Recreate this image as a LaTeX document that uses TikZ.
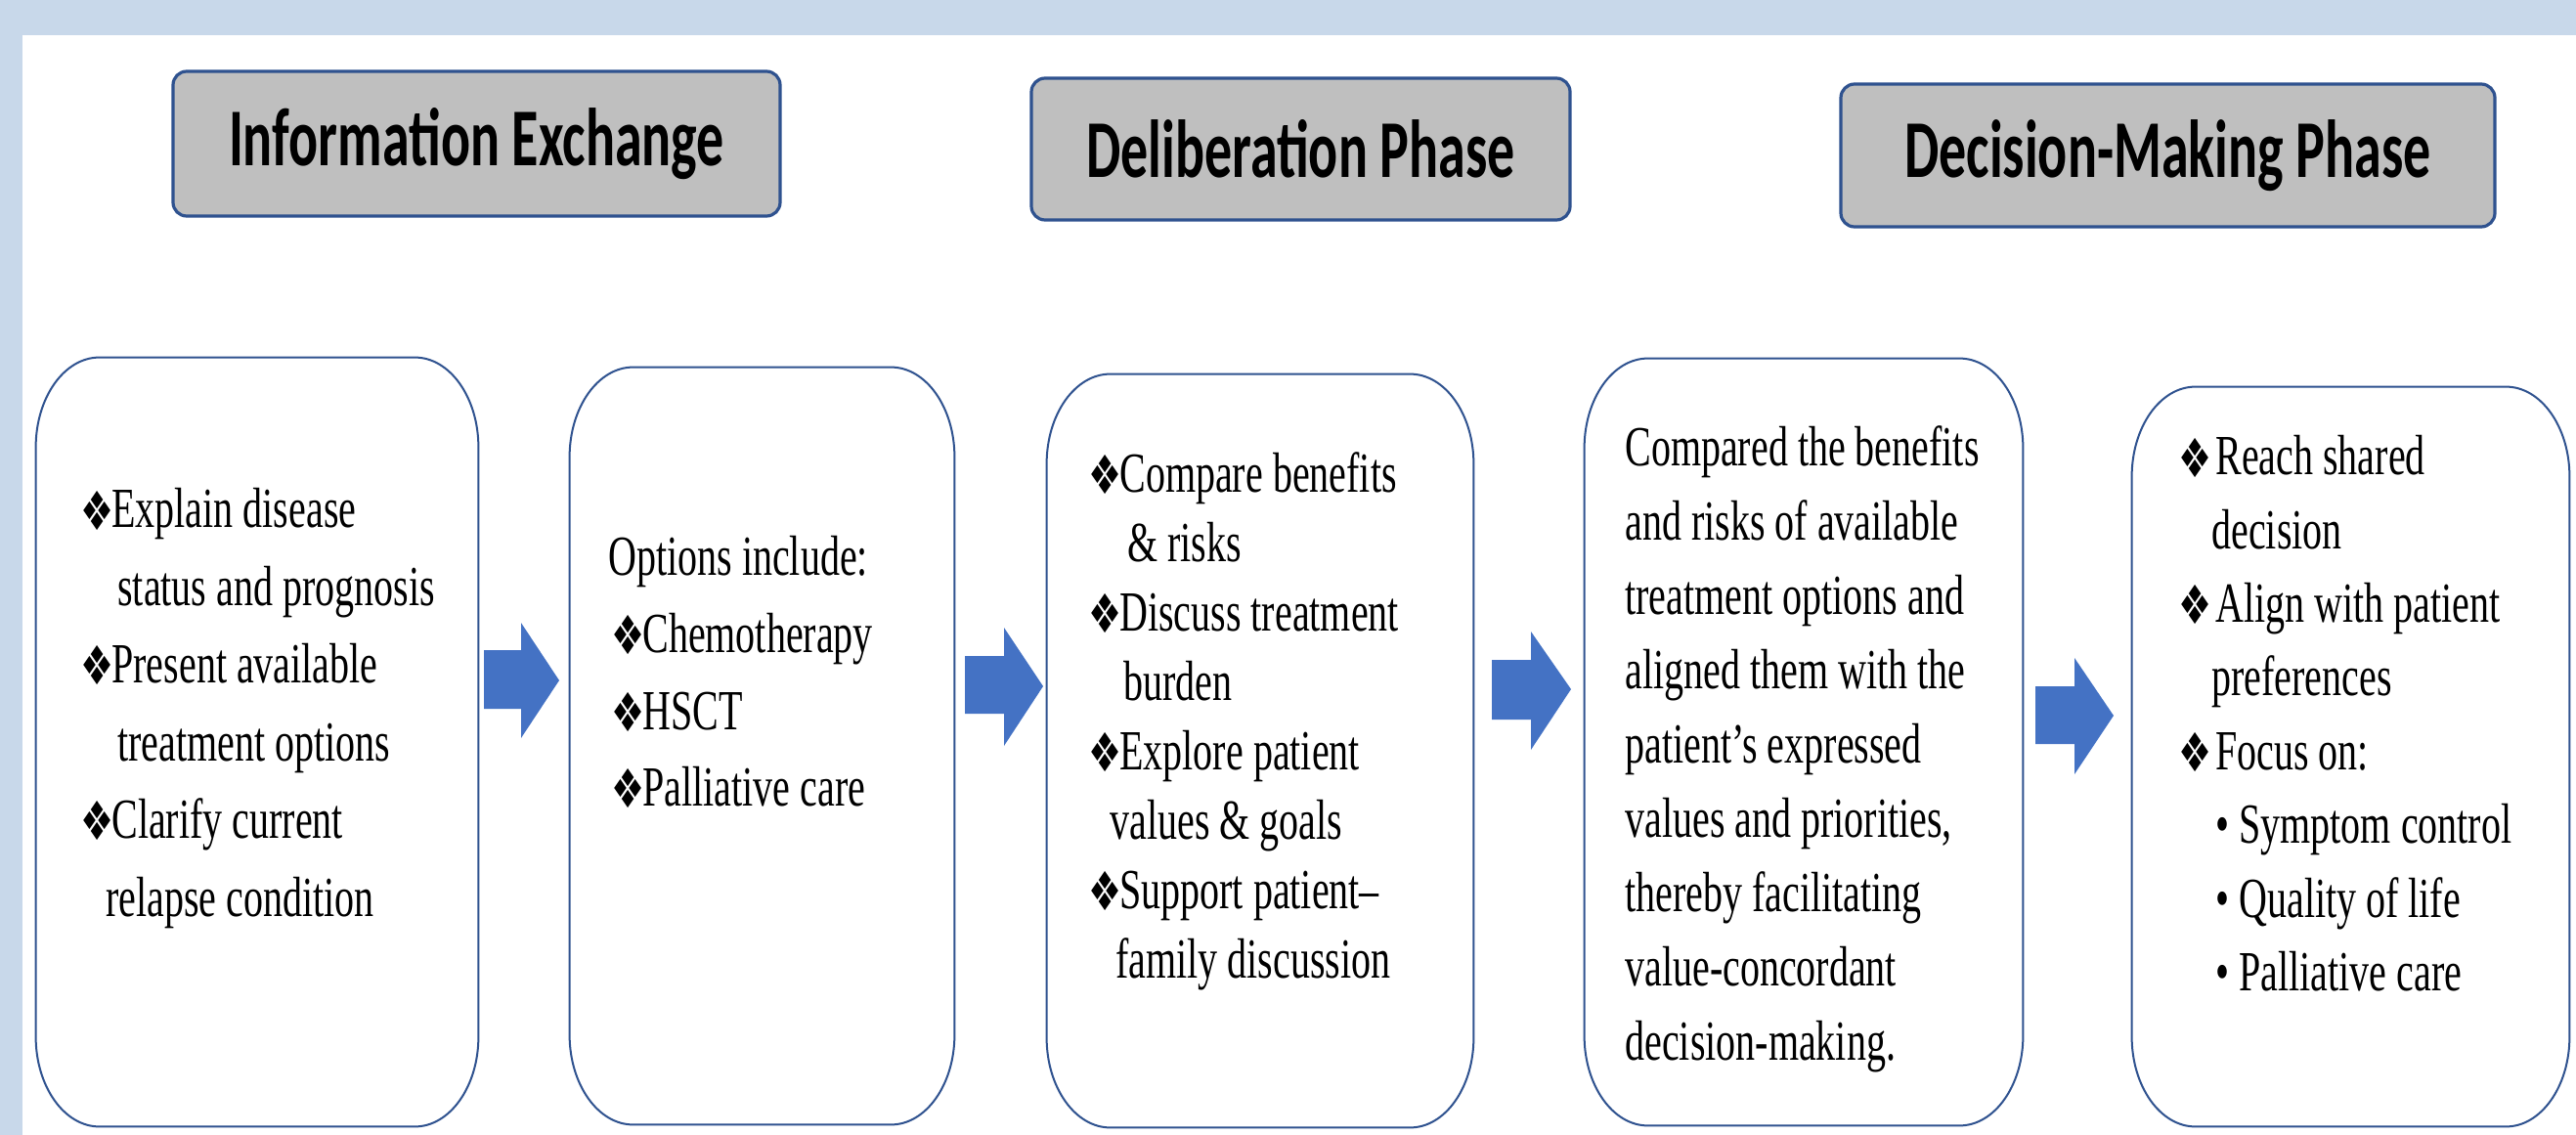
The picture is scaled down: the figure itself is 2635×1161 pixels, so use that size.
\documentclass[tikz,border=0pt]{standalone}
\usepackage{fontspec}
\usepackage{graphicx}
\setmainfont{Liberation Serif}
\newfontfamily\hdfont{Carlito}
\newfontfamily\symfont{DejaVu Sans}
\definecolor{bandblue}{RGB}{200,216,234}
\definecolor{edgeblue}{RGB}{47,82,143}
\definecolor{arrowblue}{RGB}{68,114,196}
\definecolor{hdgray}{RGB}{191,191,191}
\newcommand\dia{\makebox[16pt][l]{\raisebox{-0.8pt}{\symfont\fontsize{19}{19}\selectfont ❖}}}
\newcommand\diab{\makebox[19pt][l]{\raisebox{-0.8pt}{\symfont\fontsize{19}{19}\selectfont ❖}}}
\newcommand\txt[2]{\scalebox{1}[1.45]{\fontsize{20}{#1}\selectfont\begin{tabular}{@{}l@{}}#2\end{tabular}}}
\newcommand\hd[1]{\scalebox{1}[1.5]{\hdfont\bfseries\fontsize{28}{28}\selectfont #1}}
\newcommand\ebox[1]{\draw[bodyedge] ([xshift=32.5pt]#1.north west) -- ([xshift=-32.5pt]#1.north east)
  arc[start angle=90,end angle=0,x radius=32.5pt,y radius=46pt] -- ([yshift=46pt]#1.south east)
  arc[start angle=0,end angle=-90,x radius=32.5pt,y radius=46pt] -- ([xshift=32.5pt]#1.south west)
  arc[start angle=-90,end angle=-180,x radius=32.5pt,y radius=46pt] -- ([yshift=-46pt]#1.north west)
  arc[start angle=180,end angle=90,x radius=32.5pt,y radius=46pt] -- cycle;}
\tikzset{
  hdbox/.style={draw=edgeblue, line width=1.6pt, fill=hdgray, rounded corners=7pt, inner sep=0pt},
  bodyframe/.style={draw=none, inner sep=0pt},
  bodyedge/.style={draw=edgeblue, line width=1pt, fill=white},
  txtnode/.style={anchor=west, inner sep=0pt},
  blockarrow/.style={fill=arrowblue}
}
\begin{document}
\begin{tikzpicture}[x=0.5pt,y=-0.5pt]
\useasboundingbox (0,0) rectangle (2635,1161);
\fill[bandblue] (0,0) rectangle (2635,1161);
\fill[white] (23,36) rectangle (2635,1161);

% headers
\node[hdbox, minimum width=310.5pt, minimum height=74pt] (h1) at (487.5,147) {\hd{Information Exchange}};
\node[hdbox, minimum width=275.5pt, minimum height=72.5pt] (h2) at (1330.5,152.5) {\hd{Deliberation Phase}};
\node[hdbox, minimum width=334.5pt, minimum height=73pt] (h3) at (2217.5,159) {\hd{Decision-Making Phase}};

% body frames
\node[bodyframe, minimum width=226pt, minimum height=393pt] (b1) at (263,759) {};
\node[bodyframe, minimum width=196.5pt, minimum height=387pt] (b2) at (779.5,763) {};
\node[bodyframe, minimum width=218pt, minimum height=385pt] (b3) at (1289,768) {};
\node[bodyframe, minimum width=224pt, minimum height=392pt] (b4) at (1845,759) {};
\node[bodyframe, minimum width=223.5pt, minimum height=378pt] (b5) at (2404.5,774) {};
\ebox{b1}\ebox{b2}\ebox{b3}\ebox{b4}\ebox{b5}

% texts
\node[txtnode] (t1) at (82,722.5) {\txt{27.4}{\dia Explain disease\\
 \hspace*{19pt}status and prognosis\\
 \dia Present available\\
 \hspace*{19pt}treatment options\\
 \dia Clarify current\\
 \hspace*{13pt}relapse condition}};
\node[txtnode] (t2) at (622,691) {\txt{27.1}{Options include:\\
 \hspace*{1.5pt}\dia Chemotherapy\\
 \hspace*{1.5pt}\dia HSCT\\
 \hspace*{1.5pt}\dia Palliative care}};
\node[txtnode] (t3) at (1113,737.6) {\txt{24.5}{\dia Compare benefits\\
 \hspace*{20pt}\& risks\\
 \dia Discuss treatment\\
 \hspace*{18pt}burden\\
 \dia Explore patient\\
 \hspace*{11pt}values \& goals\\
 \dia Support patient–\\
 \hspace*{14pt}family discussion}};
\node[txtnode] (t4) at (1662,765) {\txt{26.2}{Compared the benefits\\
 and risks of available\\
 treatment options and\\
 aligned them with the\\
 patient’s expressed\\
 values and priorities,\\
 thereby facilitating\\
 value-concordant\\
 decision-making.}};
\node[txtnode] (t5) at (2228,734.5) {\txt{26.0}{\diab Reach shared\\
 \hspace*{17pt}decision\\
 \diab Align with patient\\
 \hspace*{17pt}preferences\\
 \diab Focus on:\\
 \hspace*{19pt}• Symptom control\\
 \hspace*{19pt}• Quality of life\\
 \hspace*{19pt}• Palliative care}};

% block arrows
\fill[blockarrow] (495,665) -- (533,665) -- (533,637) -- (572,696) -- (533,755) -- (533,725) -- (495,725) -- cycle;
\fill[blockarrow] (987,671) -- (1027,671) -- (1027,642) -- (1067,702) -- (1027,763) -- (1027,730) -- (987,730) -- cycle;
\fill[blockarrow] (1526,675) -- (1566,675) -- (1566,646) -- (1607,705) -- (1566,767) -- (1566,736) -- (1526,736) -- cycle;
\fill[blockarrow] (2082,702) -- (2122,702) -- (2122,673) -- (2162,732) -- (2122,792) -- (2122,761) -- (2082,761) -- cycle;
\end{tikzpicture}
\end{document}
